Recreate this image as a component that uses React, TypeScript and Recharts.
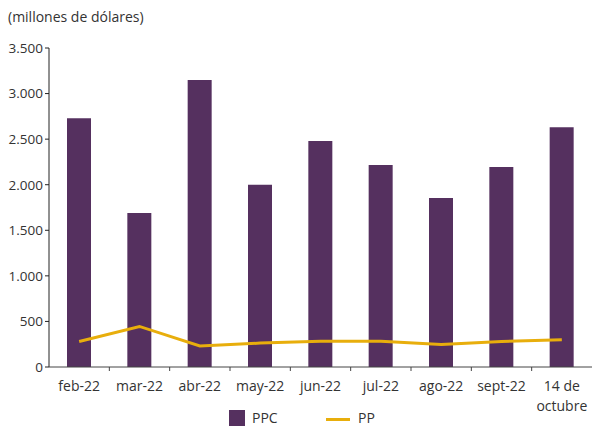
import { Bar, ComposedChart, Legend, Line, XAxis, YAxis } from "recharts";

const months = ["feb-22", "mar-22", "abr-22", "may-22", "jun-22", "jul-22", "ago-22", "sept-22", "14 de\noctubre"];
const ppc = [2730, 1690, 3150, 2000, 2480, 2215, 1855, 2195, 2630];
const pp = [280, 445, 230, 262, 282, 282, 248, 280, 298];
const yTicks = [0, 500, 1000, 1500, 2000, 2500, 3000, 3500];

const data = months.map((m, i) => ({ month: m, PPC: ppc[i], PP: pp[i] }));

const FONT = "'Open Sans', 'Noto Sans', sans-serif";
const TEXT = "#333333";
const PURPLE = "#55305F";
const GOLD = "#E8AE0C";
const W = 592;
const H = 426;
const LEFT = 49;
const BAND = (W - LEFT) / months.length;

const fmt = (v: number) => v.toString().replace(/\B(?=(\d{3})+(?!\d))/g, ".");

function MonthTick(props: any) {
  const { x, y, payload, index } = props;
  const lines = String(payload.value).split("\n");
  return (
    <g>
      {index > 0 && <line x1={x - BAND / 2} x2={x - BAND / 2} y1={y} y2={y + 4} stroke="#444" strokeWidth={1} />}
      <text x={x} y={y + 24} textAnchor="middle" fontSize={14} fontFamily={FONT} fill={TEXT}>
        {lines.map((l, i) => (
          <tspan key={i} x={x} dy={i === 0 ? 0 : 20}>
            {l}
          </tspan>
        ))}
      </text>
    </g>
  );
}

function LegendBox() {
  return (
    <div style={{ position: "relative", height: 18, fontFamily: FONT, fontSize: 14, color: TEXT }}>
      <span style={{ position: "absolute", left: 229, top: 2, width: 16, height: 16, background: PURPLE }} />
      <span style={{ position: "absolute", left: 252, top: 1, lineHeight: "18px" }}>PPC</span>
      <span style={{ position: "absolute", left: 326, top: 10, width: 24, height: 3, background: GOLD }} />
      <span style={{ position: "absolute", left: 358, top: 1, lineHeight: "18px" }}>PP</span>
    </div>
  );
}

export default function App() {
  return (
    <div style={{ position: "absolute", left: 0, top: 0, width: W, height: H }}>
      <div style={{ position: "absolute", left: 8, top: 7, fontFamily: FONT, fontSize: 14, color: TEXT }}>
        (millones de dólares)
      </div>
      <ComposedChart width={W} height={H} data={data} margin={{ top: 48, right: 0, bottom: 0, left: 0 }}>
        <YAxis
          width={LEFT}
          domain={[0, 3500]}
          ticks={yTicks}
          tickFormatter={fmt}
          interval={0}
          axisLine={{ stroke: "#222" }}
          tickLine={{ stroke: "#222" }}
          tickSize={4}
          tickMargin={2}
          tick={{ fontSize: 13.5, fontFamily: FONT, fill: TEXT }}
        />
        <XAxis
          dataKey="month"
          interval={0}
          height={41}
          axisLine={{ stroke: "#444" }}
          tickLine={false}
          tickSize={0}
          tickMargin={0}
          tick={<MonthTick />}
        />
        <Legend verticalAlign="bottom" height={18} wrapperStyle={{ left: 0, width: W, bottom: 0 }} content={<LegendBox />} />
        <Bar dataKey="PPC" fill={PURPLE} barSize={24} isAnimationActive={false} />
        <Line dataKey="PP" type="linear" stroke={GOLD} strokeWidth={3} dot={false} isAnimationActive={false} />
      </ComposedChart>
    </div>
  );
}
